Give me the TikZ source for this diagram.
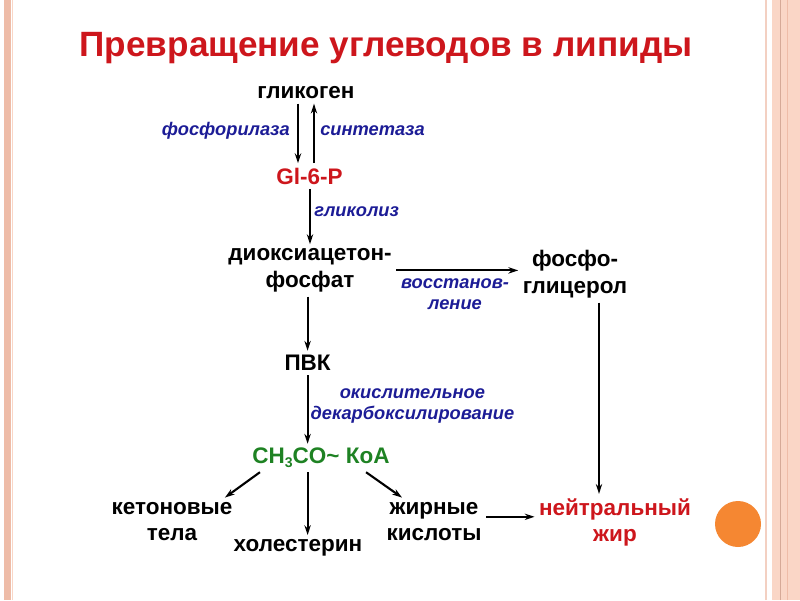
\documentclass[tikz,border=0pt]{standalone}
\usepackage{fontspec}
\setmainfont{Liberation Sans}
\usetikzlibrary{arrows.meta}
\definecolor{titlered}{RGB}{205,22,28}
\definecolor{enzblue}{RGB}{28,28,150}
\definecolor{acgreen}{RGB}{30,130,35}
\definecolor{framepink}{RGB}{238,188,168}
\definecolor{framelight}{RGB}{250,214,198}
\definecolor{dotorange}{RGB}{245,135,50}
\begin{document}
\begin{tikzpicture}[scale=1.0, >={Stealth[length=7pt,width=4.5pt]},
  sub/.style={font=\fontsize{16}{19}\selectfont\bfseries, align=center, inner sep=3pt},
  enz/.style={font=\fontsize{13}{15}\selectfont\bfseries\itshape, text=enzblue, align=center, inner sep=0pt},
  flow/.style={->, line width=1.5pt}]
  \useasboundingbox (0,0) rectangle (20,15);
  % slide frame
  \fill[framepink] (0.1,0) rectangle (0.27,15);
  \draw[framelight, line width=1pt] (0.31,0) -- (0.31,15);
  \draw[framepink!70, line width=1pt] (19.15,0) -- (19.15,15);
  \fill[framelight] (19.3,0) rectangle (20,15);
  \draw[framepink!90!black, line width=0.7pt] (19.52,0) -- (19.52,15);
  \draw[framepink, line width=0.5pt] (19.68,0) -- (19.68,15);
  \fill[dotorange] (18.45,1.9) circle (0.575);

  \node[font=\fontsize{25}{30}\selectfont\bfseries, text=titlered] (title) at (9.65,13.8) {Превращение углеводов в липиды};

  % substances
  \node[sub] (glyk) at (7.65,12.675) {гликоген};
  \node[sub, text=titlered] (gl6p) at (7.74,10.6) {Gl-6-P};
  \node[sub] (dhap) at (7.75,8.24) {диоксиацетон-\\фосфат};
  \node[sub] (fglyc) at (14.375,8.14) {фосфо-\\глицерол};
  \node[sub] (pvk) at (7.69,5.925) {ПВК};
  \node[sub, text=acgreen] (acoa) at (8.025,3.55) {CH\raisebox{-0.3ex}{\fontsize{10}{10}\selectfont 3}CO\char"007E{} КоА};
  \node[sub] (keton) at (4.3,1.96) {кетоновые\\тела};
  \node[sub] (chol) at (7.45,1.3) {холестерин};
  \node[sub] (fatty) at (10.85,1.96) {жирные\\кислоты};
  \node[sub, text=titlered] (fat) at (15.375,1.94) {нейтральный\\жир};

  % enzymes and steps
  \node[enz, anchor=east] (phos) at (7.25,11.725) {фосфорилаза};
  \node[enz, anchor=west] (synt) at (8.0,11.725) {синтетаза};
  \node[enz, anchor=west] (glycol) at (7.85,9.7) {гликолиз};
  \node[enz] (restor) at (11.375,7.65) {восстанов-\\ление};
  \node[enz] (oxid) at (10.31,4.84) {окислительное\\декарбоксилирование};

  \draw[flow] ([xshift=-0.2cm]glyk.south) -- ([xshift=-0.2cm]glyk.south |- gl6p.north);
  \draw[flow] ([xshift=0.2cm]glyk.south |- gl6p.north) -- ([xshift=0.2cm]glyk.south);
  \draw[flow] (gl6p.south -| dhap.north) -- (dhap.north);
  \draw[flow] (dhap.east) -- (dhap.east -| fglyc.west);
  \draw[flow] (dhap.south -| pvk.north) -- (pvk.north);
  \draw[flow] (pvk.south) -- (pvk.south |- acoa.north);
  \draw[flow] ([xshift=0.3cm]acoa.south west) -- ([xshift=-0.3cm]keton.north east);
  \draw[flow] (acoa.south -| pvk.south) -- (pvk.south |- chol.north);
  \draw[flow] ([xshift=-0.7cm]acoa.south east) -- ([xshift=0.5cm]fatty.north west);
  \draw[flow] ([yshift=0.12cm]fatty.east) -- ([yshift=0.12cm]fatty.east -| fat.west);
  \draw[flow] ([xshift=0.6cm]fglyc.south) -- ([xshift=0.6cm]fglyc.south |- fat.north);
\end{tikzpicture}
\end{document}
